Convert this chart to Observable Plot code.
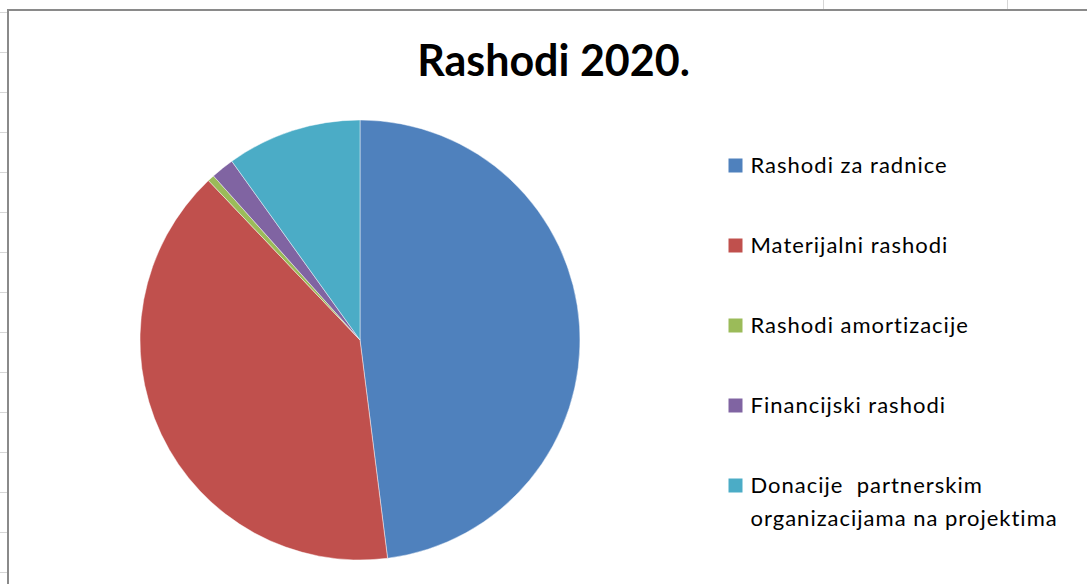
<!DOCTYPE html>
<html>
<head>
<meta charset="utf-8">
<script src="https://cdn.jsdelivr.net/npm/d3@7"></script>
<script src="https://cdn.jsdelivr.net/npm/@observablehq/plot@0.6"></script>
<style>
  html, body { margin: 0; padding: 0; background: #fff; }
  #page { position: relative; width: 1087px; height: 584px; overflow: hidden; background: #fff; }
  .hline { position: absolute; left: 0; width: 7px; height: 1px; background: #d6d6d6; }
  .vline { position: absolute; top: 0; width: 1px; height: 9px; background: #d6d6d6; }
  #chart { position: absolute; left: 7px; top: 9px; width: 1200px; height: 700px;
           border-left: 2px solid #8a8a8a; border-top: 2px solid #8a8a8a; background: #fff; }
  #chart svg { display: block; font-variant-ligatures: none; }
</style>
</head>
<body>
<div id="page">
  <div id="chart"></div>
</div>
<script>
// ---- data ----
const categories = [
  "Rashodi za radnice",
  "Materijalni rashodi",
  "Rashodi amortizacije",
  "Financijski rashodi",
  "Donacije partnerskim organizacijama na projektima"
];
const legendLabels = [
  "Rashodi za radnice",
  "Materijalni rashodi",
  "Rashodi amortizacije",
  "Financijski rashodi",
  "Donacije  partnerskim\norganizacijama na projektima"
];
const shares = [48.0, 39.9, 0.5, 1.7, 9.9];
const colors = ["#4F81BD", "#C0504D", "#9BBB59", "#8064A2", "#4BACC6"];
const title = "Rashodi 2020.";

// ---- background spreadsheet grid (decoration) ----
const page = document.getElementById("page");
for (let y = 12; y < 584; y += 40) {
  const d = document.createElement("div"); d.className = "hline"; d.style.top = y + "px"; page.appendChild(d);
}
for (const x of [823, 1007]) {
  const d = document.createElement("div"); d.className = "vline"; d.style.left = x + "px"; page.appendChild(d);
}

const rows = categories.map((c, i) => ({category: c, label: legendLabels[i], value: shares[i]}));
const colorScale = Plot.scale({color: {domain: categories, range: colors}});

// pie mark drawn with d3 arcs, coloured through Plot's colour scale
function pieMark(index, scales, values, dimensions) {
  const cx = 351, cy = 329, R = 220;
  const arcs = d3.pie().sort(null).value(d => d.value)(rows);
  const arc = d3.arc().innerRadius(0).outerRadius(R);
  const g = d3.create("svg:g").attr("transform", `translate(${cx},${cy})`);
  g.selectAll("path").data(arcs).join("path")
    .attr("d", arc)
    .attr("fill", d => colorScale.apply(d.data.category))
    .attr("stroke", "#ffffff")
    .attr("stroke-opacity", 0.6)
    .attr("stroke-width", 0.75);
  return g.node();
}

const chart = Plot.plot({
  width: 1078,
  height: 573,
  margin: 0,
  style: {background: "#fff", fontFamily: "Lato, sans-serif"},
  x: {axis: null},
  y: {type: "point", domain: categories, range: [153, 475], padding: 0, axis: null},
  color: {domain: categories, range: colors},
  marks: [
    pieMark,
    Plot.text([title], {
      frameAnchor: "top-left", dx: 544, dy: 64, textAnchor: "middle", lineAnchor: "bottom",
      fontSize: 43, fontWeight: "bold", fill: "#000", text: d => d
    }),
    Plot.dot(rows, {
      y: "category", frameAnchor: "left", dx: 726, symbol: "square", r: 7.9,
      fill: "category", stroke: null
    }),
    Plot.text(rows, {
      y: "category", text: "label", frameAnchor: "left", dx: 741, dy: -16,
      textAnchor: "start", lineAnchor: "top", fontSize: 22, fill: "#000",
      lineHeight: 1.5
    })
  ]
});
d3.select(chart).selectAll("g[aria-label='text']").filter((d, i) => i === 1)
  .attr("letter-spacing", "1px");
document.getElementById("chart").appendChild(chart);
</script>
</body>
</html>
